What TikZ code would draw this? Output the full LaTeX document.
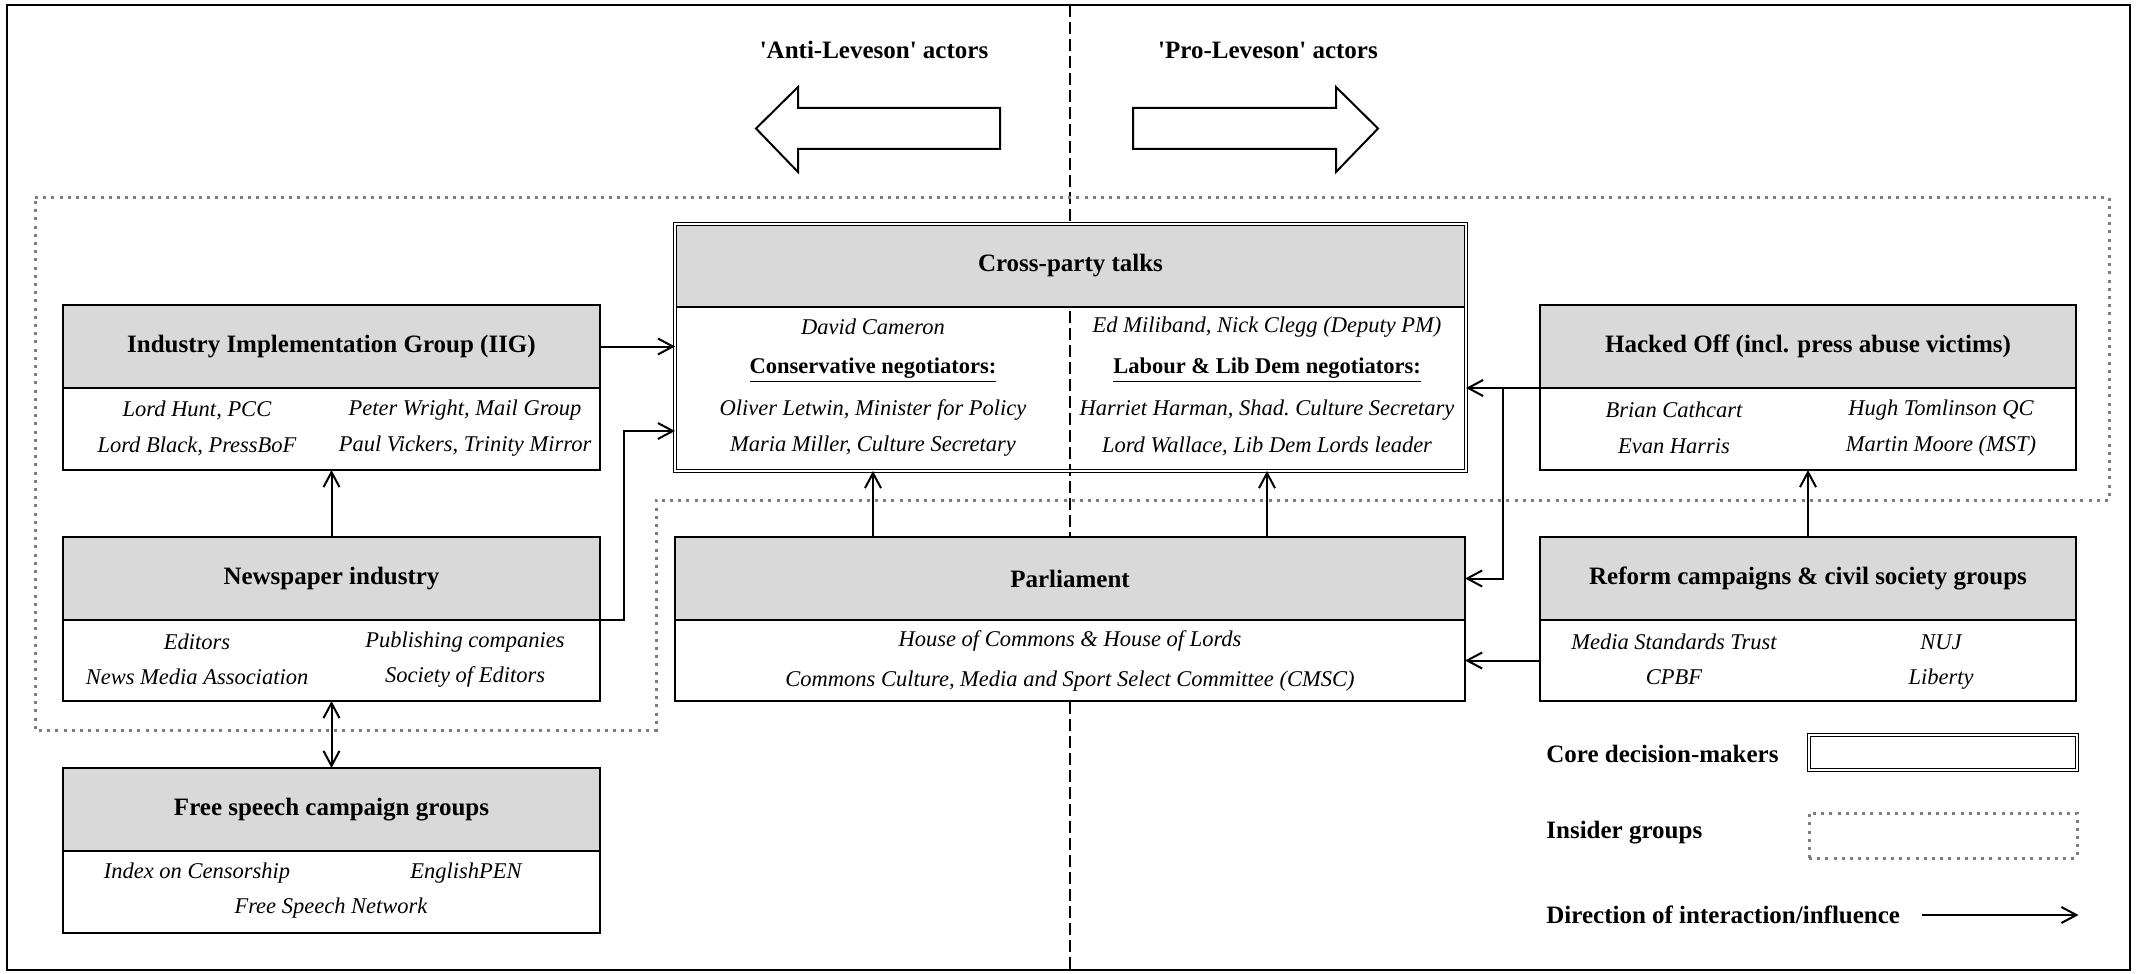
\documentclass[tikz,border=0pt]{standalone}
\usepackage{fontspec}
\setmainfont{Liberation Serif}
\usepackage{tikz}
\usetikzlibrary{arrows.meta,positioning}
\usepackage{xcolor}
\definecolor{hdgray}{RGB}{217,217,217}
\definecolor{dotgray}{RGB}{125,125,125}
\newcommand{\hdfont}{\bfseries\fontsize{12.5}{15}\selectfont}
\newcommand{\mbfont}{\itshape\fontsize{11.25}{13.5}\selectfont}
\newcommand{\q}{\textquotesingle}
\tikzstyle{arrow} = [line width=1pt,-{Straight Barb[length=7.5pt,width=8pt]}]
\tikzstyle{twoway} = [line width=1pt,{Straight Barb[length=7.5pt,width=8pt]}-{Straight Barb[length=7.5pt,width=8pt]}]
\tikzstyle{boxhead} = [rectangle, draw, line width=0.7pt, fill=hdgray, outer sep=0pt, inner sep=0pt, font=\hdfont]
\tikzstyle{boxbody} = [rectangle, draw, line width=0.7pt, fill=white, outer sep=0pt, inner sep=0pt]
\tikzstyle{boxline} = [line width=1.4pt]
\tikzstyle{corebox} = [draw, line width=0.6pt, double, double distance=0.8pt]
\tikzstyle{insider} = [draw=dotgray, line width=1.5pt, dash pattern=on 1.5pt off 2.6pt]
\tikzstyle{member} = [font=\mbfont, inner sep=1pt]
\tikzstyle{side} = [font=\hdfont]
\tikzstyle{legend} = [font=\hdfont, anchor=west, inner sep=0pt]

\begin{document}
\begin{tikzpicture}[x=0.5pt, y=-0.5pt]
\useasboundingbox (0,0) rectangle (2137,974);
% Frame and divide
\draw[line width=1.4pt] (7,5) rectangle (2130,970);
\draw[line width=0.9pt, dash pattern=on 6pt off 2.5pt] (1070,5) -- (1070,970);

% Anti / pro sides
\node[side] (anti) at (874,50) {\q Anti-Leveson\q{} actors};
\node[side] (pro) at (1268,50) {\q Pro-Leveson\q{} actors};
\draw[line width=1pt] (1000,108) -- (798,108) -- (798,87) -- (756,128.5) -- (798,172) -- (798,149) -- (1000,149) -- cycle;
\draw[line width=1pt] (1133,108) -- (1336,108) -- (1336,87) -- (1378,128.5) -- (1336,172) -- (1336,149) -- (1133,149) -- cycle;

% Insider groups
\draw[insider] (35,197) -- (2109,197) -- (2109,500) -- (656,500) -- (656,730) -- (35,730) -- cycle;

% Cross-party talks
\node[boxhead, minimum width=395.5pt, minimum height=41.5pt] (cpt) at (1070.5,265.5) {Cross-party talks};
\node[boxbody, fill=none, minimum width=395.5pt, minimum height=82pt, below=0pt of cpt] (cptb) {};
\draw[corebox] (cpt.north west) rectangle (cptb.south east);
\node[member] (cpl1) at (873,327) {David Cameron};
\node[member, font=\bfseries\fontsize{11.25}{13.5}\selectfont] (cpl2) at (873,370) {\underline{Conservative negotiators:}};
\node[member] (cpl3) at (873,410) {Oliver Letwin, Minister for Policy};
\node[member] (cpl4) at (873,446) {Maria Miller, Culture Secretary};
\node[member] (cpr1) at (1267,327) {Ed Miliband, Nick Clegg (Deputy PM)};
\node[member, font=\bfseries\fontsize{11.25}{13.5}\selectfont] (cpr2) at (1267,370) {\underline{Labour \& Lib Dem negotiators:}};
\node[member] (cpr3) at (1267,410) {Harriet Harman, Shad.\ Culture Secretary};
\node[member] (cpr4) at (1267,446) {Lord Wallace, Lib Dem Lords leader};

% Industry Implementation Group
\node[boxhead, minimum width=268.5pt, minimum height=41.5pt] (iig) at (331.5,346.5) {Industry Implementation Group (IIG)};
\node[boxbody, minimum width=268.5pt, minimum height=41pt, below=0pt of iig] (iigb) {};
\draw[boxline] (iig.north west) rectangle (iigb.south east);
\node[member] (iig1) at (197,410) {Lord Hunt, PCC};
\node[member] (iig2) at (465,410) {Peter Wright, Mail Group};
\node[member] (iig3) at (197,446) {Lord Black, PressBoF};
\node[member] (iig4) at (465,446) {Paul Vickers, Trinity Mirror};

% Hacked Off
\node[boxhead, minimum width=268pt, minimum height=41.5pt] (hck) at (1808,346.5) {Hacked Off (incl. press abuse victims)};
\node[boxbody, minimum width=268pt, minimum height=41pt, below=0pt of hck] (hckb) {};
\draw[boxline] (hck.north west) rectangle (hckb.south east);
\node[member] (hck1) at (1674,410) {Brian Cathcart};
\node[member] (hck2) at (1941,410) {Hugh Tomlinson QC};
\node[member] (hck3) at (1674,446) {Evan Harris};
\node[member] (hck4) at (1941,446) {Martin Moore (MST)};

% Newspaper industry
\node[boxhead, minimum width=268.5pt, minimum height=41.5pt] (nws) at (331.5,578.5) {Newspaper industry};
\node[boxbody, minimum width=268.5pt, minimum height=40.5pt, below=0pt of nws] (nwsb) {};
\draw[boxline] (nws.north west) rectangle (nwsb.south east);
\node[member] (nws1) at (197,642) {Editors};
\node[member] (nws2) at (465,642) {Publishing companies};
\node[member] (nws3) at (197,677) {News Media Association};
\node[member] (nws4) at (465,677) {Society of Editors};

% Parliament
\node[boxhead, minimum width=395pt, minimum height=41.5pt] (prl) at (1070,578.5) {Parliament};
\node[boxbody, minimum width=395pt, minimum height=40.5pt, below=0pt of prl] (prlb) {};
\draw[boxline] (prl.north west) rectangle (prlb.south east);
\node[member] (prl1) at (1070,641) {House of Commons \& House of Lords};
\node[member] (prl2) at (1070,681) {Commons Culture, Media and Sport Select Committee (CMSC)};

% Reform campaigns
\node[boxhead, minimum width=268pt, minimum height=41.5pt] (rfm) at (1808,578.5) {Reform campaigns \& civil society groups};
\node[boxbody, minimum width=268pt, minimum height=40.5pt, below=0pt of rfm] (rfmb) {};
\draw[boxline] (rfm.north west) rectangle (rfmb.south east);
\node[member] (rfm1) at (1674,642) {Media Standards Trust};
\node[member] (rfm2) at (1941,642) {NUJ};
\node[member] (rfm3) at (1674,677) {CPBF};
\node[member] (rfm4) at (1941,679) {Liberty};

% Free speech groups
\node[boxhead, minimum width=268.5pt, minimum height=41.5pt] (fsp) at (331.5,809.5) {Free speech campaign groups};
\node[boxbody, minimum width=268.5pt, minimum height=41pt, below=0pt of fsp] (fspb) {};
\draw[boxline] (fsp.north west) rectangle (fspb.south east);
\node[member] (fsp1) at (197,873) {Index on Censorship};
\node[member] (fsp2) at (466,873) {EnglishPEN};
\node[member] (fsp3) at (331,908) {Free Speech Network};

% Interaction arrows
\draw[arrow] (iig.east) -- (iig.east -| cptb.west);
\draw[arrow] (nws.south east) -- ++(12pt,0) |- ([yshift=-21pt]cptb.west);
\draw[arrow] (nws.north) -- (iigb.south);
\draw[twoway] (nwsb.south) -- (fsp.north);
\draw[arrow] (prl.north -| cpl1) -- (cptb.south -| cpl1);
\draw[arrow] (prl.north -| cpr1) -- (cptb.south -| cpr1);
\draw[arrow] (hck.south west) -- (hck.south west -| cptb.east);
\draw[arrow] (hck.south west) ++(-18.5pt,0) |- (prl.east);
\draw[arrow] (rfm.north) -- (hckb.south);
\draw[arrow] (rfmb.west) -- (rfmb.west -| prlb.east);

% Legend
\node[legend] (lgt1) at (1546,754) {Core decision-makers};
\node[corebox, minimum width=134pt, minimum height=17.5pt] (lgcore) at (1943,752.5) {};
\node[legend] (lgt2) at (1546,833) {Insider groups};
\node[insider, minimum width=134pt, minimum height=22.5pt] (lgins) at (1943,835.5) {};
\node[legend] (lgt3) at (1546,915) {Direction of interaction/influence};
\draw[arrow] (lgt3.east) ++(11pt,0) -- (lgins.east |- lgt3.east);
\end{tikzpicture}
\end{document}
